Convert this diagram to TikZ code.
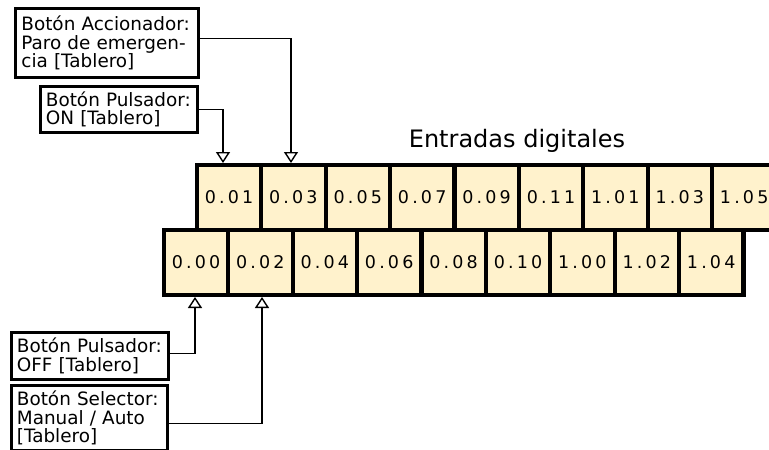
\documentclass[tikz,border=0pt]{standalone}
\usepackage{fontspec}
\setmainfont{DejaVu Sans}
\usepackage{xcolor}
\usepackage{tikz}
\usetikzlibrary{arrows.meta, positioning, calc}

\definecolor{cellfill}{HTML}{FFF2CC}

\begin{document}
\begin{tikzpicture}[
    x=1pt, y=-1pt,
    cell/.style={draw, line width=4.2pt, fill=cellfill, minimum width=64.4pt, minimum height=64.6pt, inner sep=0pt,
        font=\fontsize{17.5}{17.5}\selectfont\addfontfeature{LetterSpace=18}},
    tag/.style={draw, line width=2.8pt, anchor=north west, align=left, inner xsep=3pt, inner ysep=2pt,
        font=\fontsize{18.4}{18.6}\selectfont},
    feed/.style={line width=1.4pt, -{Triangle[open, width=14pt, length=11pt, line width=1.4pt]}}
]
\useasboundingbox (0,0) rectangle (769,450);
\clip (0,0) rectangle (769,450);

% Title
\node[font=\fontsize{24}{24}\selectfont] (title) at (517,141) {Entradas digitales};

% Odd inputs (top row)
\foreach \lbl [count=\i] in {0.01,0.03,0.05,0.07,0.09,0.11,1.01,1.03,1.05}
    \node[cell] (top\i) at ({229+64.4*(\i-1)},197.4) {\lbl};

% Even inputs (bottom row)
\foreach \lbl [count=\i] in {0.00,0.02,0.04,0.06,0.08,0.10,1.00,1.02,1.04}
    \node[cell] (bot\i) at ({196+64.4*(\i-1)},262.6) {\lbl};

% Devices
\node[tag, minimum width=183pt, minimum height=69pt, text width=171pt] (acc) at (14,7)
    {Botón Accionador:\\Paro de emergen-\\cia [Tablero]};
\node[tag, minimum width=157pt, minimum height=46pt, text width=146pt] (on) at (39,85)
    {Botón Pulsador:\\ON [Tablero]};
\node[tag, minimum width=157pt, minimum height=47pt, text width=146pt] (off) at (10,331)
    {Botón Pulsador:\\OFF [Tablero]};
\node[tag, minimum width=156pt, minimum height=65pt, text width=145pt] (sel) at (10,384)
    {Botón Selector:\\Manual / Auto\\{[Tablero]}};

% Wiring
\draw[feed] ([yshift=4.7pt]acc.east) -| ([xshift=-2.4pt]top2.north);
\draw[feed] (on.east) -| ([xshift=-6pt]top1.north);
\draw[feed] ([yshift=2.5pt]off.east) -| ([xshift=-1pt]bot1.south);
\draw[feed] ([yshift=-5.5pt]sel.east) -| ([xshift=1.6pt]bot2.south);

\end{tikzpicture}
\end{document}
